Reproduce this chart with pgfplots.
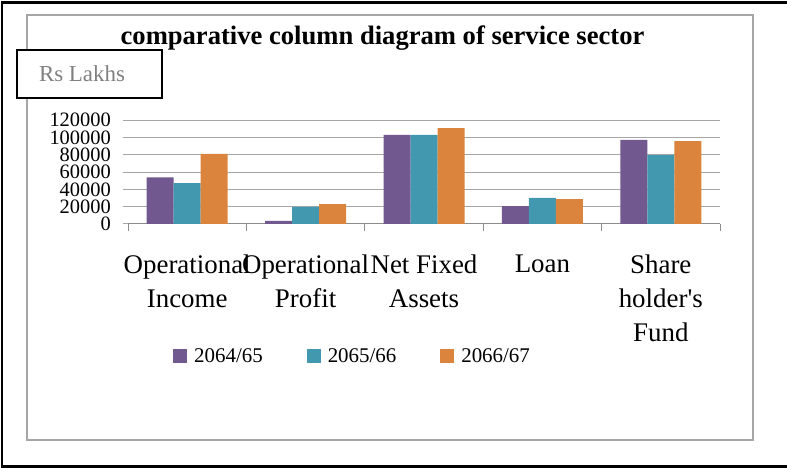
\documentclass[border=0pt]{standalone}
\usepackage{fontspec}
\setmainfont{Liberation Serif}
\usepackage{pgfplots}
\pgfplotsset{compat=1.18}
\definecolor{cpurple}{HTML}{71588F}
\definecolor{cteal}{HTML}{4198AF}
\definecolor{corange}{HTML}{DB843D}
\definecolor{gridgray}{HTML}{A6A6A6}
\definecolor{axgray}{HTML}{8C8C8C}
\begin{document}
\begin{tikzpicture}[x=1bp,y=1bp]
\path[use as bounding box] (0,0) rectangle (787,468);
\draw[black, line width=2.5bp] (787,465.5) -- (2,465.5) -- (2,1.5) -- (787,1.5);
\draw[gridgray, line width=1.3bp] (27,453) rectangle (753,28);
\node[font=\bfseries\fontsize{26.7}{30}\selectfont, anchor=base] at (382.5,423) {comparative column diagram of service sector};
\draw[black, line width=1.8bp, fill=white] (17,418) rectangle (162,370);
\node[gray, font=\fontsize{23}{23}\selectfont, anchor=base] at (82,386) {Rs Lakhs};
\begin{axis}[
  at={(128bp,244bp)}, anchor=south west,
  scale only axis, width=592bp, height=103.7bp,
  ybar=0pt, bar width=27bp,
  xmin=-0.5, xmax=4.5, ymin=0, ymax=120000,
  axis lines*=left,
  axis line style={-},
  y axis line style={draw=none},
  x axis line style={draw=axgray, line width=1bp},
  tick align=outside,
  xtick={0,1,2,3,4},
  xticklabels={{Operational\\Income},{Operational\\Profit},{Net Fixed\\Assets},{Loan},{Share\\holder\textquotesingle s\\Fund}},
  major x tick style={draw=none},
  minor xtick={-0.5,0.5,1.5,2.5,3.5,4.5},
  minor x tick style={draw=axgray, line width=1bp},
  minor tick length=7bp,
  major tick length=5bp,
  ytick={0,20000,40000,60000,80000,100000,120000},
  ytick style={draw=gridgray, line width=1bp},
  ymajorgrids,
  grid style={gridgray, line width=1bp},
  scaled y ticks=false,
  /pgf/number format/fixed,
  /pgf/number format/assume math mode=true,
  /pgf/number format/1000 sep={},
  yticklabel style={font=\fontsize{20.5}{20.5}\selectfont, inner sep=0pt, xshift=-12bp},
  xticklabel style={font=\fontsize{27}{34}\selectfont, align=center, anchor=north, inner sep=0pt, yshift=-25.5bp},
  legend columns=3,
  legend style={draw=none, fill=none, anchor=west, at={(0.076,-1.273)}, font=\fontsize{21}{21}\selectfont,
    /tikz/every even column/.append style={column sep=42bp},
    /tikz/every odd column/.append style={column sep=5bp}, inner sep=0pt},
  legend image code/.code={\fill[#1] (0bp,-7bp) rectangle (14bp,7bp);},
]
\addplot[fill=cpurple, draw=none] coordinates {(0,54000) (1,3500) (2,103000) (3,20800) (4,97200)};
\addplot[fill=cteal, draw=none] coordinates {(0,47400) (1,19700) (2,103000) (3,30100) (4,79800)};
\addplot[fill=corange, draw=none] coordinates {(0,81000) (1,23100) (2,111000) (3,28900) (4,96000)};
\legend{2064/65,2065/66,2066/67}
\end{axis}
\end{tikzpicture}
\end{document}
